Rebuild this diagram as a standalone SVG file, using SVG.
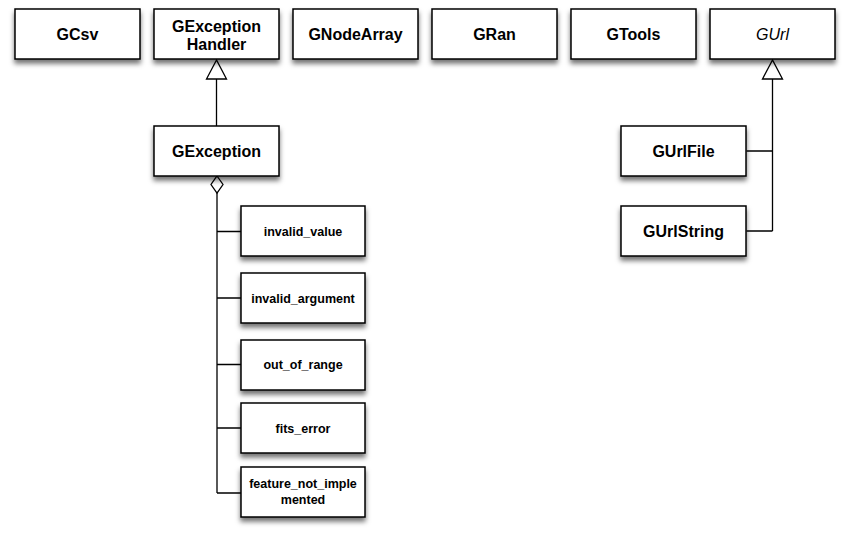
<svg xmlns="http://www.w3.org/2000/svg" width="849" height="538" viewBox="0 0 849 538">
<defs>
<filter id="sh" x="-20%" y="-20%" width="140%" height="160%">
<feDropShadow dx="0" dy="4" stdDeviation="2.5" flood-color="#000" flood-opacity="0.55"/>
</filter>
</defs>
<style>
.box{fill:#fff;stroke:#000;stroke-width:1.5;filter:url(#sh)}
.t{font-family:"Liberation Sans",Arial,sans-serif;font-weight:bold;font-size:16px;text-anchor:middle;fill:#000}
.s{font-family:"Liberation Sans",Arial,sans-serif;font-weight:bold;font-size:12.5px;text-anchor:middle;fill:#000}
.i{font-weight:normal;font-style:italic}
.ln{fill:none;stroke:#000;stroke-width:1.3}
.tri{fill:#fff;stroke:#000;stroke-width:1.3}
</style>
<rect width="849" height="538" fill="#fff"/>
<g id="connectors">
<path class="ln" d="M216.5 79 V126"/>
<polygon class="tri" points="216.5,60 206.5,79 226.5,79"/>
<path class="ln" d="M217 193 V493 M217 231.5 H241 M217 298 H241 M217 364.5 H241 M217 428 H241 M217 493 H241"/>
<polygon class="tri" points="217,176 223,184.5 217,193 211,184.5"/>
<path class="ln" d="M772.5 79 V231 M746.5 151 H772.5 M746.5 231 H772.5"/>
<polygon class="tri" points="772.5,60 762.5,79 782.5,79"/>
</g>
<g id="GCsv"><rect class="box" x="15" y="9" width="125" height="50"/><text class="t" x="77.5" y="40">GCsv</text></g>
<g id="GExceptionHandler"><rect class="box" x="154" y="9" width="125" height="50"/><text class="t" x="216.5" y="32">GException</text><text class="t" x="216.5" y="50">Handler</text></g>
<g id="GNodeArray"><rect class="box" x="293" y="9" width="125" height="50"/><text class="t" x="355.5" y="40">GNodeArray</text></g>
<g id="GRan"><rect class="box" x="432" y="9" width="125" height="50"/><text class="t" x="494.5" y="40">GRan</text></g>
<g id="GTools"><rect class="box" x="571" y="9" width="125" height="50"/><text class="t" x="633.5" y="40">GTools</text></g>
<g id="GUrl"><rect class="box" x="710" y="9" width="125" height="50"/><text class="t i" x="772.5" y="40">GUrl</text></g>
<g id="GException"><rect class="box" x="154" y="126" width="125" height="50"/><text class="t" x="216.5" y="157">GException</text></g>
<g id="GUrlFile"><rect class="box" x="621" y="126" width="125" height="50"/><text class="t" x="683.5" y="157">GUrlFile</text></g>
<g id="GUrlString"><rect class="box" x="621" y="206" width="125" height="50"/><text class="t" x="683.5" y="237">GUrlString</text></g>
<g id="invalid_value"><rect class="box" x="241" y="206" width="124" height="50"/><text class="s" x="303" y="236">invalid_value</text></g>
<g id="invalid_argument"><rect class="box" x="241" y="273" width="124" height="50"/><text class="s" x="303" y="303">invalid_argument</text></g>
<g id="out_of_range"><rect class="box" x="241" y="340" width="124" height="50"/><text class="s" x="303" y="369">out_of_range</text></g>
<g id="fits_error"><rect class="box" x="241" y="403" width="124" height="50"/><text class="s" x="303" y="433">fits_error</text></g>
<g id="feature_not_implemented"><rect class="box" x="241" y="467" width="124" height="50"/><text class="s" x="303" y="488">feature_not_imple</text><text class="s" x="303" y="504">mented</text></g>
</svg>
